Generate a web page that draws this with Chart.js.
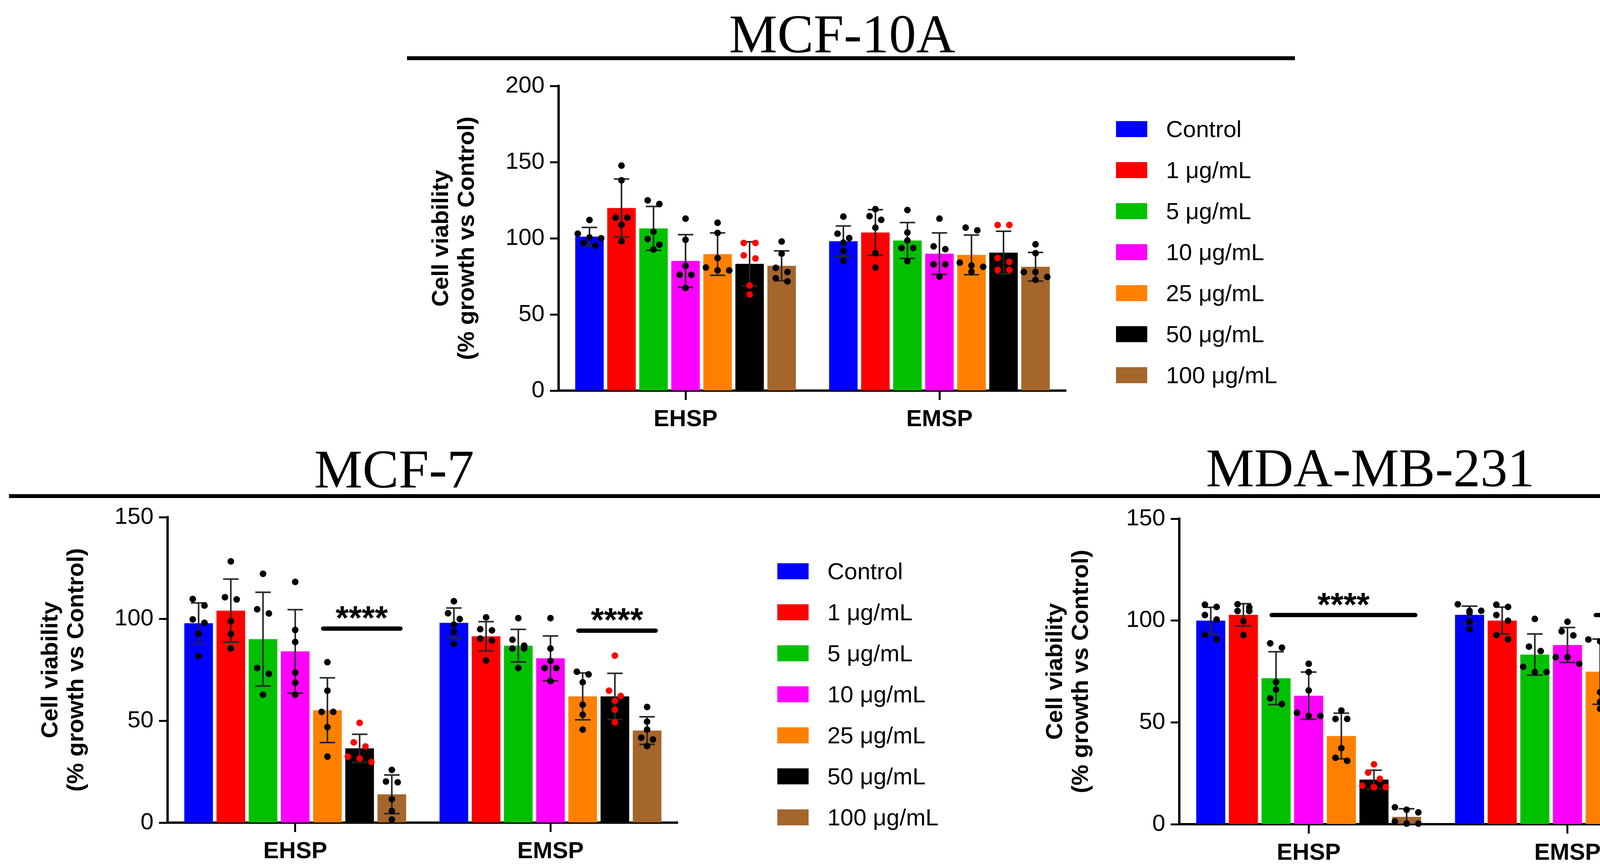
<!DOCTYPE html>
<html>
<head>
<meta charset="utf-8">
<script src="https://cdn.jsdelivr.net/npm/chart.js@4.4.1/dist/chart.umd.min.js"></script>
<style>
  html, body { margin: 0; padding: 0; background: #fff; }
  #page { position: relative; width: 4344px; height: 2217px; overflow: hidden; background: #fff; }
  canvas { position: absolute; }
  .title { position: absolute; font-family: 'Liberation Serif', 'Times New Roman', serif; font-size: 139px;
           line-height: 139px; white-space: nowrap; transform: translateX(-50%); color: #000; }
  .rule { position: absolute; background: #000; height: 10px; }
  .legend { position: absolute; font-family: 'Liberation Sans', Arial, sans-serif; font-size: 60px; color: #000; }
  .legend .row { display: flex; align-items: center; height: 105px; white-space: nowrap; }
  .legend .box { display: inline-block; width: 80px; height: 41px; margin-right: 48px; }
</style>
</head>
<body>
<div id="page">
  <div class="title" style="left:2156px; top:18px;">MCF-10A</div>
  <div class="rule" style="left:1042px; top:144px; width:2273px;"></div>
  <div class="title" style="left:1009px; top:1132px;">MCF-7</div>
  <div class="title" style="left:3508px; top:1129px;">MDA-MB-231</div>
  <div class="rule" style="left:23px; top:1265px; width:4321px;"></div>

  <canvas id="mcf10a" width="1633" height="950" style="left:1097px; top:170px;"></canvas>
  <canvas id="mcf7" width="1639" height="952" style="left:97px; top:1274px;"></canvas>
  <canvas id="mda" width="1675" height="952" style="left:2669px; top:1278px;"></canvas>

  <div class="legend" id="legendTop" style="left:2857px; top:278px;"></div>
  <div class="legend" id="legendMcf7" style="left:1990px; top:1410px;"></div>
</div>

<script>
// categories and series
const groups = ['EHSP', 'EMSP'];
const seriesLabels = ['Control', '1 μg/mL', '5 μg/mL', '10 μg/mL', '25 μg/mL', '50 μg/mL', '100 μg/mL'];
const seriesColors = ['#0000ff', '#ff0000', '#00c000', '#ff00ff', '#ff8000', '#000000', '#a5662c'];
const dotColors = ['#000', '#000', '#000', '#000', '#000', '#ff0000', '#000'];

// MCF-10A: mean per series [EHSP, EMSP]
const mcf10aMean = [[101.1, 98.1], [119.9, 103.8], [106.5, 98.5], [85.1, 89.9], [89.6, 89.1], [83.2, 90.6], [81.9, 81.3]];
const mcf10aSd = [[6, 10], [19, 15], [14.4, 11.8], [17.3, 13.6], [13.9, 13], [14.5, 14], [9.8, 9.4]];
const mcf10aPoints = [
  [[112, 103, 100.6, 100, 96.9, 95.2], [114.2, 103, 100.1, 97.1, 91.7, 85.1]],
  [[147.7, 138, 113.5, 113.5, 108.9, 98.1], [119.1, 114.5, 112.1, 107, 90.2, 80.8]],
  [[124.9, 122.5, 104.3, 99.5, 95.8, 92.6], [118.5, 103.8, 98.5, 93.6, 93.6, 84.9]],
  [[112.9, 99, 81.9, 76, 76, 67.4], [112.9, 94.7, 92.8, 82.9, 82.9, 74.9]],
  [[110.2, 103.5, 87, 80.8, 78.9, 78.9], [107, 105.2, 84, 82.1, 81.3, 78.1]],
  [[96.9, 96.9, 88.8, 86.7, 69, 63.1], [108.7, 108.7, 87, 84.5, 79.2, 79.2]],
  [[97.9, 89.9, 80.6, 77.8, 73.8, 71.7], [96, 90.2, 77.8, 77.8, 74.6, 72.7]]
];
const mcf10aSig = [];

// MCF-7
const mcf7Mean = [[97.9, 98.1], [104.1, 91.5], [90.1, 86.9], [84.1, 80.7], [55.2, 62], [36.5, 62], [13.9, 45.2]];
const mcf7Sd = [[10, 7.3], [15.5, 7.2], [23, 8], [20.5, 11], [15.9, 11.5], [6.9, 11.3], [9.5, 6.8]];
const mcf7Points = [
  [[109.8, 106.6, 99.8, 98.1, 92.8, 81.7], [108.7, 102.8, 100, 97.2, 93.7, 87.8]],
  [[128.3, 110.7, 109.6, 98.9, 92.7, 85.5], [100.8, 95, 94.4, 90.4, 89.5, 79.6]],
  [[122.2, 104.8, 102.7, 75.9, 73.1, 62.8], [100.4, 89.8, 86.9, 85.5, 85.5, 75.9]],
  [[118.2, 94.6, 88.7, 73.7, 68.7, 62.8], [100.4, 85.5, 79.4, 75.9, 75.9, 69.5]],
  [[78.8, 64.8, 54.4, 54.4, 46.9, 32.4], [74.1, 72.8, 68.9, 57.9, 53, 45.7]],
  [[49, 39.4, 37.4, 32.4, 31.5, 29.8], [82, 64.8, 62.2, 59.8, 55.5, 49.2]],
  [[25.9, 20.2, 19.8, 11.5, 5.7, 1.5], [56.8, 49.6, 45.7, 41.7, 40.8, 37.6]]
];
// [group, first series, last series, bar height]
const mcf7Sig = [[0, 4, 6, 95.3], [1, 4, 6, 94.3]];

// MDA-MB-231
const mdaMean = [[100, 102.8], [102.8, 100], [71.7, 83.3], [63.1, 88], [43.3, 74.9], [21.9, 63], [3.6, 39.1]];
const mdaSd = [[6.5, 4.3], [5.5, 6.6], [13, 10.1], [11.6, 8.6], [11.2, 16], [4.6, 14.6], [4, 4.9]];
const mdaPoints = [
  [[107.8, 106.7, 102.7, 100.5, 93.1, 90.8], [108, 104.8, 104.8, 103.9, 99.4, 95.7]],
  [[108, 106.5, 104.7, 104.7, 99.7, 92.9], [107.8, 106.7, 102.7, 99.9, 92.9, 90.8]],
  [[88.8, 86.7, 69.8, 66.1, 61.8, 59], [100.8, 87.2, 85, 77.3, 74.7, 74.7]],
  [[78.8, 74.7, 65.7, 54.7, 53.2, 53.2], [99.4, 94.7, 92.7, 82, 82, 78.8]],
  [[55.8, 51.7, 51.7, 37.3, 32.6, 31.1], [90.7, 89.8, 87.8, 64.8, 60.1, 56.7]],
  [[29.4, 25.3, 22.3, 18.9, 18.2, 18.2], [80.7, 74.7, 72.7, 51.5, 51, 47.8]],
  [[8.3, 7.1, 5.8, 1.3, 0.3, 0.3], [46, 41.4, 40.8, 40, 34.5, 32.6]]
];
const mdaSig = [[0, 2, 6, 102.7], [1, 4, 6, 102.7]];

const yTicksTop = [0, 50, 100, 150, 200];
const yTicksBottom = [0, 50, 100, 150];

Chart.defaults.font.family = "'Liberation Sans', Arial, sans-serif";
Chart.defaults.color = '#000';

// error bars, scatter dots and significance bars, all placed with the chart's own scales
const overlay = {
  id: 'overlay',
  afterDatasetsDraw(chart, args, opts) {
    const ctx = chart.ctx;
    const ys = chart.scales.y;
    const r = 8.5, step = 30;
    ctx.save();

    chart.data.datasets.forEach((ds, i) => {
      chart.getDatasetMeta(i).data.forEach((bar, j) => {
        const m = ds.data[j], sd = ds.sd[j];
        const top = ys.getPixelForValue(m + sd);
        const bot = ys.getPixelForValue(Math.max(m - sd, 0));
        const cap = bar.width * 0.27;
        ctx.strokeStyle = '#262626';
        ctx.lineWidth = 4;
        ctx.beginPath();
        ctx.moveTo(bar.x, top); ctx.lineTo(bar.x, bot);
        ctx.moveTo(bar.x - cap, top); ctx.lineTo(bar.x + cap, top);
        ctx.moveTo(bar.x - cap, bot); ctx.lineTo(bar.x + cap, bot);
        ctx.stroke();
      });
    });

    chart.data.datasets.forEach((ds, i) => {
      chart.getDatasetMeta(i).data.forEach((bar, j) => {
        const pys = ds.points[j].map(v => ys.getPixelForValue(v)).sort((a, b) => a - b);
        // points that would overlap sit side by side in one row
        const rows = [];
        pys.forEach(py => {
          const row = rows[rows.length - 1];
          if (row && py - row[0] < 2 * r) row.push(py);
          else rows.push([py]);
        });
        ctx.fillStyle = ds.dotColor;
        rows.forEach(row => {
          row.forEach((py, k) => {
            const px = bar.x + (k - (row.length - 1) / 2) * step;
            ctx.beginPath();
            ctx.arc(px, py, r, 0, Math.PI * 2);
            ctx.fill();
          });
        });
      });
    });

    (opts.sig || []).forEach(([g, s0, s1, v]) => {
      const b0 = chart.getDatasetMeta(s0).data[g];
      const b1 = chart.getDatasetMeta(s1).data[g];
      const x0 = b0.x - b0.width * 0.15, x1 = b1.x + b1.width * 0.3;
      const py = ys.getPixelForValue(v);
      ctx.strokeStyle = '#000';
      ctx.lineWidth = 11;
      ctx.lineCap = 'round';
      ctx.beginPath();
      ctx.moveTo(x0, py); ctx.lineTo(x1, py);
      ctx.stroke();
      ctx.fillStyle = '#000';
      ctx.font = "bold 86px 'Liberation Sans', Arial, sans-serif";
      ctx.textAlign = 'center';
      ctx.textBaseline = 'alphabetic';
      ctx.fillText('****', (x0 + x1) / 2, py + 2);
    });

    ctx.restore();
  }
};

function makeChart(id, means, sds, points, sig, yTicks, axisWidth) {
  const datasets = seriesLabels.map((label, s) => ({
    label: label,
    data: means[s],
    sd: sds[s],
    points: points[s],
    dotColor: dotColors[s],
    backgroundColor: seriesColors[s],
    borderWidth: 0,
    barPercentage: 0.89,
    categoryPercentage: 0.883
  }));

  return new Chart(document.getElementById(id), {
    type: 'bar',
    data: { labels: groups, datasets: datasets },
    options: {
      responsive: false,
      animation: false,
      devicePixelRatio: 1,
      layout: { padding: { top: 40, left: 0, right: 0, bottom: 0 } },
      plugins: {
        legend: { display: false },
        tooltip: { enabled: false },
        overlay: { sig: sig }
      },
      scales: {
        x: {
          offset: true,
          z: 1,
          ticks: { color: '#000', padding: 14, font: { size: 60, weight: 'bold' } },
          grid: { drawOnChartArea: false, offset: false, tickLength: 24, tickWidth: 5, tickColor: '#000' },
          border: { display: true, color: '#000', width: 6 },
          afterFit(scale) { scale.height = 120; }
        },
        y: {
          min: yTicks[0],
          max: yTicks[yTicks.length - 1],
          z: 1,
          afterBuildTicks(scale) { scale.ticks = yTicks.map(v => ({ value: v })); },
          ticks: { color: '#000', padding: 14, font: { size: 60 } },
          grid: { drawOnChartArea: false, tickLength: 22, tickWidth: 5, tickColor: '#000' },
          border: { display: true, color: '#000', width: 6 },
          title: {
            display: true,
            text: ['Cell viability', '(% growth vs Control)'],
            color: '#000',
            padding: 0,
            font: { size: 60, weight: 'bold', lineHeight: 1.1 }
          },
          afterFit(scale) { scale.width = axisWidth; }
        }
      }
    },
    plugins: [overlay]
  });
}

makeChart('mcf10a', mcf10aMean, mcf10aSd, mcf10aPoints, mcf10aSig, yTicksTop, 333);
makeChart('mcf7', mcf7Mean, mcf7Sd, mcf7Points, mcf7Sig, yTicksBottom, 332);
makeChart('mda', mdaMean, mdaSd, mdaPoints, mdaSig, yTicksBottom, 350);

function buildLegend(el) {
  seriesLabels.forEach((label, i) => {
    const row = document.createElement('div');
    row.className = 'row';
    const box = document.createElement('span');
    box.className = 'box';
    box.style.background = seriesColors[i];
    const txt = document.createElement('span');
    txt.textContent = label;
    row.append(box, txt);
    el.append(row);
  });
}
buildLegend(document.getElementById('legendTop'));
buildLegend(document.getElementById('legendMcf7'));
</script>
</body>
</html>
